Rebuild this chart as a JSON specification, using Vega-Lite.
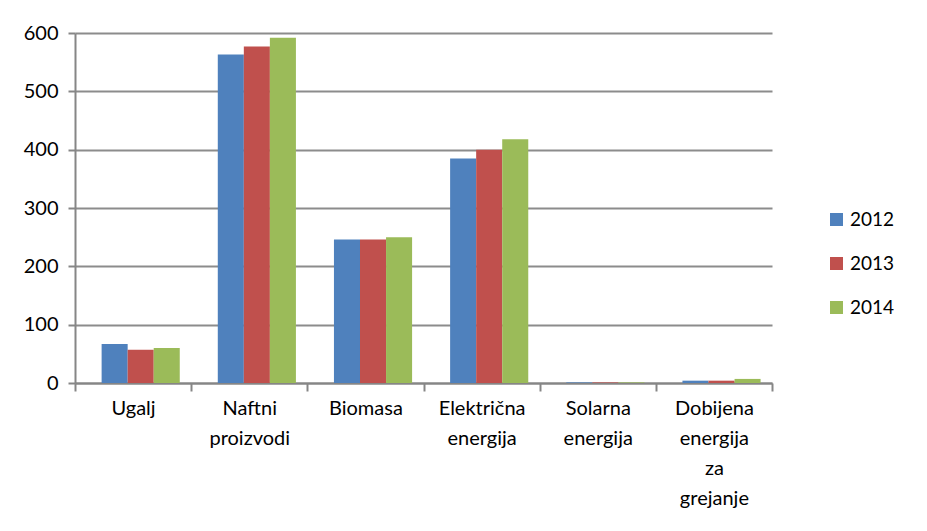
{
  "$schema": "https://vega.github.io/schema/vega-lite/v6.json",
  "width": 697,
  "height": 350,
  "autosize": "none",
  "padding": {"left": 75, "top": 33, "right": 155, "bottom": 148},
  "background": "white",
  "config": {
    "view": {"stroke": null},
    "font": "Lato"
  },
  "data": {
    "values": [
      {"category": "Ugalj", "year": "2012", "value": 67},
      {"category": "Ugalj", "year": "2013", "value": 57},
      {"category": "Ugalj", "year": "2014", "value": 60},
      {"category": "Naftni proizvodi", "year": "2012", "value": 563},
      {"category": "Naftni proizvodi", "year": "2013", "value": 577},
      {"category": "Naftni proizvodi", "year": "2014", "value": 592},
      {"category": "Biomasa", "year": "2012", "value": 246},
      {"category": "Biomasa", "year": "2013", "value": 246},
      {"category": "Biomasa", "year": "2014", "value": 250},
      {"category": "Električna energija", "year": "2012", "value": 385},
      {"category": "Električna energija", "year": "2013", "value": 400},
      {"category": "Električna energija", "year": "2014", "value": 418},
      {"category": "Solarna energija", "year": "2012", "value": 1},
      {"category": "Solarna energija", "year": "2013", "value": 1},
      {"category": "Solarna energija", "year": "2014", "value": 1},
      {"category": "Dobijena energija za grejanje", "year": "2012", "value": 4},
      {"category": "Dobijena energija za grejanje", "year": "2013", "value": 4},
      {"category": "Dobijena energija za grejanje", "year": "2014", "value": 7}
    ]
  },
  "mark": {"type": "bar"},
  "encoding": {
    "x": {
      "field": "category",
      "type": "nominal",
      "sort": null,
      "title": null,
      "scale": {"paddingInner": 0, "paddingOuter": 0},
      "axis": {
        "labelExpr": "split(datum.label, ' ')",
        "labelAngle": 0,
        "labelAlign": "center",
        "labelBaseline": "top",
        "labelFontSize": 20,
        "labelLineHeight": 30,
        "labelPadding": 7,
        "labelColor": "black",
        "domainColor": "#868686",
        "domainWidth": 2,
        "tickColor": "#868686",
        "tickWidth": 2,
        "tickSize": 8,
        "tickBand": "extent",
        "labelLimit": 200
      }
    },
    "xOffset": {
      "field": "year",
      "type": "nominal",
      "scale": {"paddingInner": 0, "paddingOuter": 0.73, "align": 0.7}
    },
    "y": {
      "field": "value",
      "type": "quantitative",
      "title": null,
      "scale": {"domain": [0, 600], "nice": false},
      "axis": {
        "values": [0, 100, 200, 300, 400, 500, 600],
        "labelFontSize": 20,
        "labelColor": "black",
        "labelPadding": 10,
        "domainColor": "#868686",
        "domainWidth": 2,
        "tickColor": "#868686",
        "tickWidth": 2,
        "tickSize": 7,
        "gridColor": "#8c8c8c",
        "gridWidth": 2
      }
    },
    "color": {
      "field": "year",
      "type": "nominal",
      "title": null,
      "scale": {"domain": ["2012", "2013", "2014"], "range": ["#4F81BD", "#C0504D", "#9BBB59"]},
      "legend": {
        "orient": "none",
        "legendX": 752,
        "legendY": 177,
        "symbolType": "square",
        "symbolSize": 170,
        "symbolStrokeWidth": 0,
        "labelFontSize": 19,
        "labelColor": "black",
        "rowPadding": 24,
        "labelOffset": 4
      }
    }
  }
}
